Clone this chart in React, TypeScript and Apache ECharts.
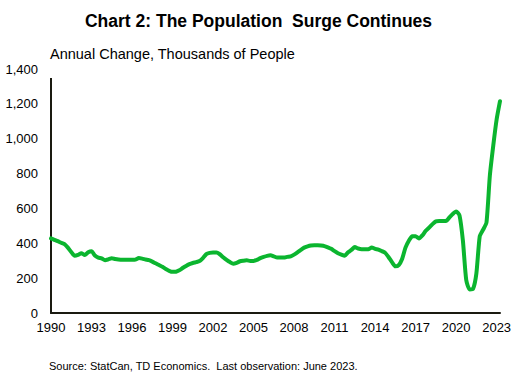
import React, { useEffect, useRef } from "react";
import * as echarts from "echarts";

const years: number[] = [];
for (let y = 1990; y <= 2023; y++) years.push(y);
const quarters = ["Q1", "Q2", "Q3", "Q4"];

// Annual population change, thousands, quarterly observations
const values1990s = [
  428, 420, 412, 403, 395, 375, 350, 328, 333, 343, 333, 348, 354, 330, 318, 314,
  303, 308, 314, 310, 307, 305, 305, 305, 305, 306, 315, 312, 307, 303, 295, 285,
  275, 265, 252, 242, 236, 237, 245, 258,
];
const values2000s = [
  270, 280, 287, 292, 298, 315, 338, 345, 347, 347, 337, 320, 305, 292, 283, 288,
  297, 300, 302, 299, 299, 305, 315, 322, 328, 331, 325, 318, 318, 318, 322, 325,
  335, 348, 362, 375, 382, 387, 389, 389,
];
const values2010s = [
  387, 384, 377, 368, 355, 343, 335, 328, 348, 362, 378, 370, 366, 366, 366, 376,
  368, 364, 355, 345, 320, 292, 268, 275, 310, 375, 415, 440, 440, 428, 445, 472,
  490, 510, 526, 528, 528, 528, 548, 568,
];
const values2020s = [583, 560, 417, 189, 135, 138, 227, 440, 478, 520, 790, 960, 1110, 1215];

const yTicks = [0, 200, 400, 600, 800, 1000, 1200, 1400];

const titleText = "Chart 2: The Population  Surge Continues";
const axisTitleText = "Annual Change, Thousands of People";
const sourceText = "Source: StatCan, TD Economics.  Last observation: June 2023.";

const values = [...values1990s, ...values2000s, ...values2010s, ...values2020s];
const categories: string[] = [];
for (const y of years) for (const q of quarters) categories.push(`${y}${q}`);
categories.length = values.length;

const FONT = "'Liberation Sans', Arial, sans-serif";

export default function App() {
  const ref = useRef<HTMLDivElement>(null);
  useEffect(() => {
    document.body.style.margin = "0";
    if (!ref.current) return;
    const chart = echarts.init(ref.current, null, { renderer: "svg" });
    chart.setOption({
      animation: false,
      backgroundColor: "#ffffff",
      textStyle: { fontFamily: FONT },
      title: {
        text: titleText,
        left: "center",
        top: 7,
        textStyle: { fontSize: 17.5, fontWeight: "bold", color: "#000", fontFamily: FONT },
      },
      grid: { left: 51, right: 17, top: 69, bottom: 72, containLabel: false },
      xAxis: {
        type: "category",
        data: categories,
        boundaryGap: false,
        axisLine: { show: true, lineStyle: { color: "#1a1a10", width: 2 } },
        axisTick: { show: false },
        splitLine: { show: false },
        axisLabel: {
          interval: (index: number) => index % 12 === 0,
          formatter: (v: string) => v.slice(0, 4),
          color: "#000",
          fontSize: 13,
          margin: 8,
          fontFamily: FONT,
        },
      },
      yAxis: {
        type: "value",
        min: yTicks[0],
        max: yTicks[yTicks.length - 1],
        interval: 200,
        axisLine: { show: true, lineStyle: { color: "#1a1a10", width: 2 } },
        axisTick: { show: false },
        splitLine: { show: false },
        axisLabel: {
          color: "#000",
          fontSize: 13,
          margin: 13,
          fontFamily: FONT,
          formatter: (v: number) => v.toLocaleString("en-US"),
        },
      },
      graphic: [
        {
          type: "rect",
          left: 46,
          top: 60,
          shape: { width: 10, height: 18 },
          style: { fill: "#ffffff" },
          z: 100,
        },
        {
          type: "text",
          left: 50,
          top: 46,
          z: 101,
          style: { text: axisTitleText, fill: "#000", font: `14.5px ${FONT}` },
        },
        {
          type: "text",
          left: 49,
          top: 360,
          z: 101,
          style: { text: sourceText, fill: "#000", font: `11px ${FONT}` },
        },
      ],
      series: [
        {
          type: "line",
          data: values,
          showSymbol: false,
          symbol: "none",
          lineStyle: { color: "#0BB52F", width: 4, join: "round", cap: "round" },
          smooth: 0.2,
          z: 5,
        },
      ],
    });
    return () => chart.dispose();
  }, []);
  return <div ref={ref} style={{ width: 517, height: 385 }} />;
}
